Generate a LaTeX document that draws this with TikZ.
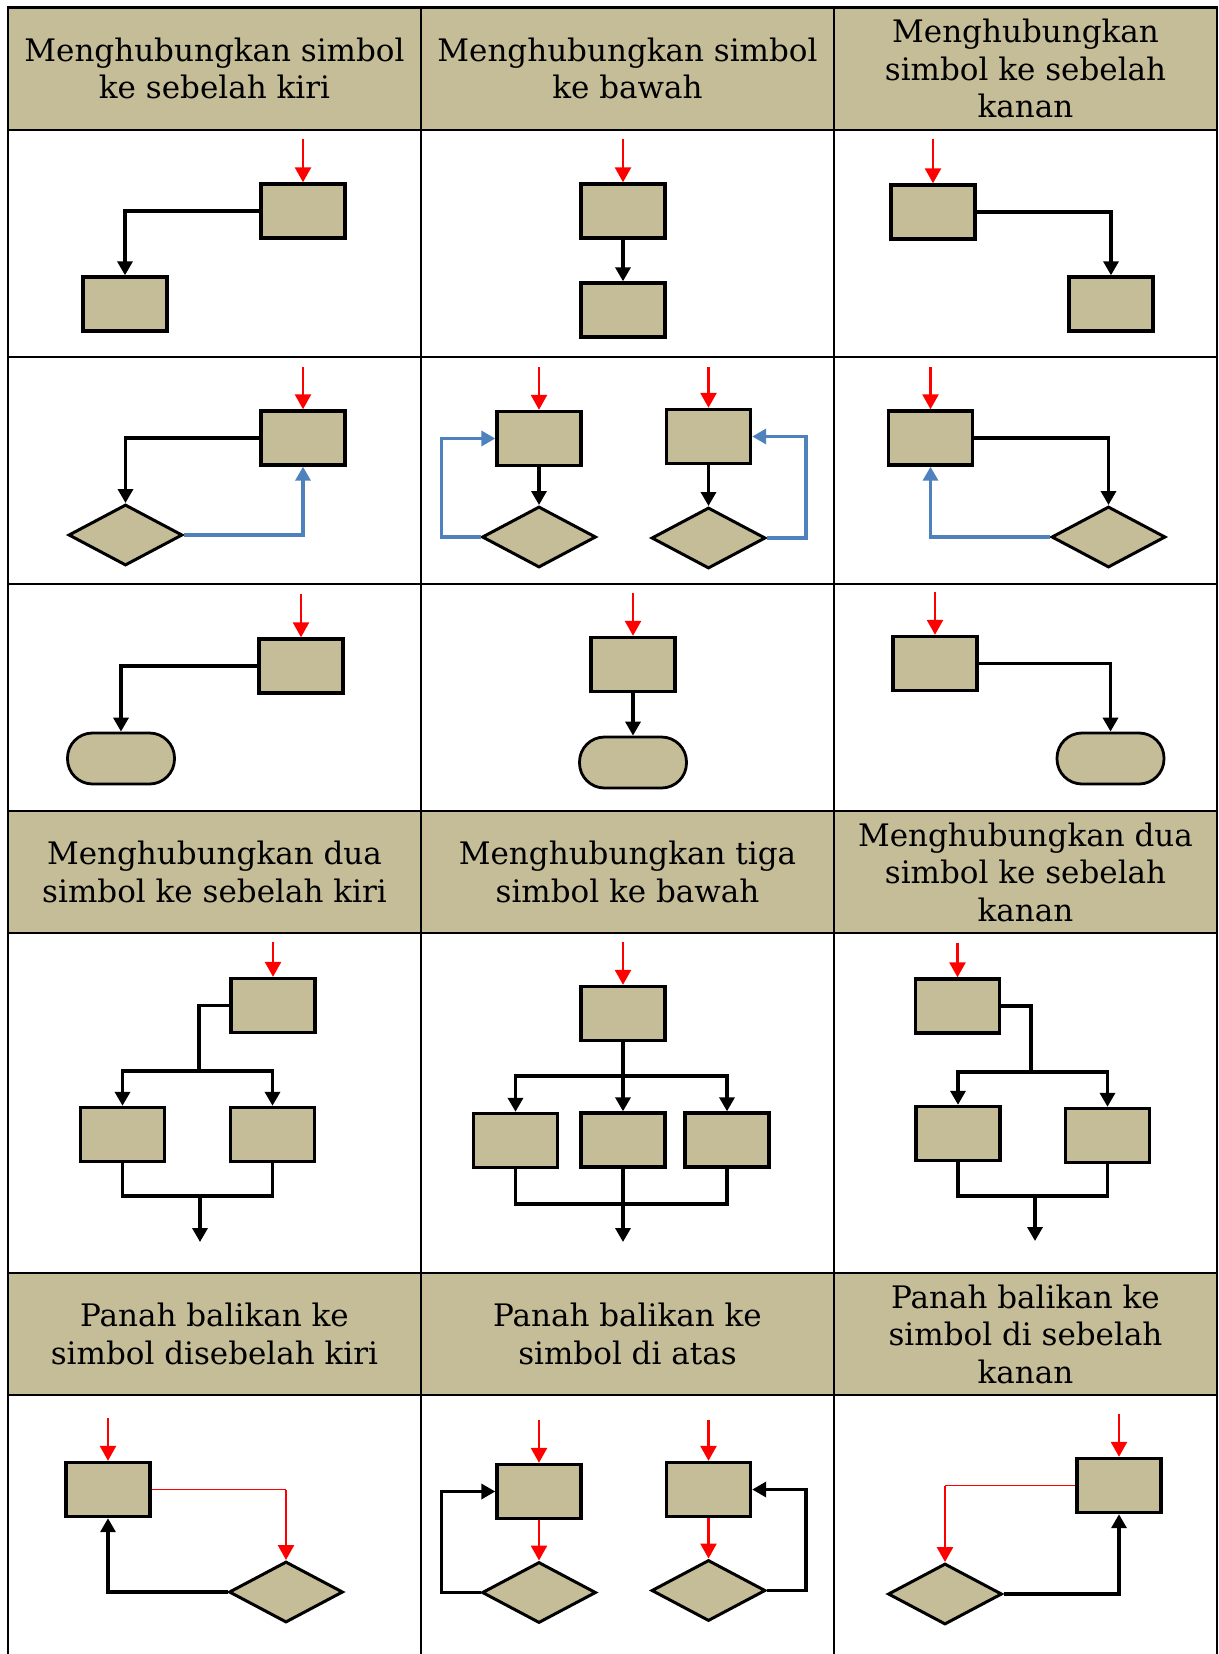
\documentclass[tikz,border=0pt]{standalone}
\usepackage{fontspec}
\setmainfont{DejaVu Serif}
\usetikzlibrary{arrows.meta,shapes.geometric}

\definecolor{khaki}{HTML}{C4BD97}
\definecolor{loopblue}{HTML}{4F81BD}

\tikzset{
	box/.style={draw, line width=3.4pt, fill=khaki, minimum width=84pt, minimum height=54pt, inner sep=0pt},
	dec/.style={diamond, draw, line width=3pt, fill=khaki, minimum width=114pt, minimum height=61pt, inner sep=0pt},
	term/.style={draw, line width=2.8pt, fill=khaki, rounded corners=25pt, minimum width=107pt, minimum height=51pt, inner sep=0pt},
	wire/.style={line width=3.4pt},
	flow/.style={-{Triangle[width=15pt,length=14pt]}, line width=3.4pt},
	inflow/.style={-{Triangle[width=16pt,length=15pt]}, red, line width=2.6pt},
	inwire/.style={red, line width=1.8pt},
	back/.style={-{Triangle[width=15pt,length=14pt]}, loopblue, line width=3.4pt},
	head/.style={align=center, font=\fontsize{31}{37.5}\selectfont},
}

\begin{document}
\begin{tikzpicture}[x=1pt, y=-1pt]
	\useasboundingbox (0, 0) rectangle (1218, 1654);
	
	% header bands
	\fill[khaki] (8, 7.5) rectangle (1217, 130);
	\fill[khaki] (8, 811) rectangle (1217, 933);
	\fill[khaki] (8, 1273) rectangle (1217, 1395);
	
	% table rules
	\foreach \y in {7.5, 130, 357, 584, 811, 933, 1273, 1395}
		\draw[line width=2.4pt] (7, \y) -- (1218, \y);
	\foreach \x in {8, 421, 834, 1217}
		\draw[line width=2.4pt] (\x, 6.5) -- (\x, 1660);
	
	% header texts
	\draw node[head] at (214.5, 68.5) (h11) {Menghubungkan simbol\\ke sebelah kiri};
	\draw node[head] at (627.5, 68.5) (h12) {Menghubungkan simbol\\ke bawah};
	\draw node[head] at (1025.5, 68.5) (h13) {Menghubungkan\\simbol ke sebelah\\kanan};
	\draw node[head] at (214.5, 872) (h21) {Menghubungkan dua\\simbol ke sebelah kiri};
	\draw node[head] at (627.5, 872) (h22) {Menghubungkan tiga\\simbol ke bawah};
	\draw node[head] at (1025.5, 872) (h23) {Menghubungkan dua\\simbol ke sebelah\\kanan};
	\draw node[head] at (214.5, 1334) (h31) {Panah balikan ke\\simbol disebelah kiri};
	\draw node[head] at (627.5, 1334) (h32) {Panah balikan ke\\simbol di atas};
	\draw node[head] at (1025.5, 1334) (h33) {Panah balikan ke\\simbol di sebelah\\kanan};
	
	% row A: process to process
	\draw node[box] at (303, 211) (A1a) {};
	\draw node[box] at (125, 304) (A1b) {};
	\coordinate (A1s) at (303, 139);
	\draw [inflow] (A1s) -- (A1a.north);
	\draw [flow] (A1a.west) -| (A1b.north);
	
	\draw node[box] at (623, 211) (A2a) {};
	\draw node[box] at (623, 310) (A2b) {};
	\coordinate (A2s) at (623, 139);
	\draw [inflow] (A2s) -- (A2a.north);
	\draw [flow] (A2a) -- (A2b);
	
	\draw node[box] at (933, 212) (A3a) {};
	\draw node[box] at (1111, 304) (A3b) {};
	\coordinate (A3s) at (933, 139);
	\draw [inflow] (A3s) -- (A3a.north);
	\draw [flow] (A3a.east) -| (A3b.north);
	
	% row B: process to decision with loop
	\draw node[box] at (303, 438) (B1a) {};
	\draw node[dec] at (125.5, 535) (B1b) {};
	\coordinate (B1s) at (303, 367);
	\draw [inflow] (B1s) -- (B1a.north);
	\draw [flow] (B1a.west) -| (B1b.north);
	\draw [back] (B1b.east) -| (B1a.south);
	
	\draw node[box] at (539, 438.5) (B2a) {};
	\draw node[dec] at (539, 537) (B2b) {};
	\coordinate (B2s) at (539, 367);
	\draw [inflow] (B2s) -- (B2a.north);
	\draw [flow] (B2a) -- (B2b);
	\draw [back] (B2b.west) -- ++(-39, 0) |- (B2a.west);
	
	\draw node[box] at (708.5, 436.5) (B2c) {};
	\draw node[dec] at (708.5, 538) (B2d) {};
	\coordinate (B2t) at (708.5, 367);
	\draw [inflow] (B2t) -- (B2c.north);
	\draw [flow] (B2c) -- (B2d);
	\draw [back] (B2d.east) -- ++(39, 0) |- (B2c.east);
	
	\draw node[box] at (930.5, 438) (B3a) {};
	\draw node[dec] at (1108.5, 537) (B3b) {};
	\coordinate (B3s) at (930.5, 367);
	\draw [inflow] (B3s) -- (B3a.north);
	\draw [flow] (B3a.east) -| (B3b.north);
	\draw [back] (B3b.west) -| (B3a.south);
	
	% row C: process to terminator
	\draw node[box] at (301, 666) (C1a) {};
	\draw node[term] at (121, 758.5) (C1b) {};
	\coordinate (C1s) at (301, 594);
	\draw [inflow] (C1s) -- (C1a.north);
	\draw [flow] (C1a.west) -| (C1b.north);
	
	\draw node[box] at (633, 664.5) (C2a) {};
	\draw node[term] at (633, 762.5) (C2b) {};
	\coordinate (C2s) at (633, 593);
	\draw [inflow] (C2s) -- (C2a.north);
	\draw [flow] (C2a) -- (C2b);
	
	\draw node[box] at (935, 663.5) (C3a) {};
	\draw node[term] at (1110.5, 758.5) (C3b) {};
	\coordinate (C3s) at (935, 592);
	\draw [inflow] (C3s) -- (C3a.north);
	\draw [flow] (C3a.east) -| (C3b.north);
	
	% row D: branching and merging
	\draw node[box] at (273, 1005.5) (D1a) {};
	\draw node[box] at (122.5, 1134.5) (D1b) {};
	\draw node[box] at (272.5, 1134.5) (D1c) {};
	\coordinate (D1s) at (273, 942);
	\coordinate (D1j) at (199, 1071);
	\coordinate (D1m) at (200, 1196);
	\coordinate (D1o) at (200, 1242);
	\draw [inflow] (D1s) -- (D1a.north);
	\draw [wire] (D1a.west) -| (D1j);
	\draw [flow] (D1j) -| (D1b.north);
	\draw [flow] (D1j) -| (D1c.north);
	\draw [wire] (D1b.south) |- (D1m);
	\draw [wire] (D1c.south) |- (D1m);
	\draw [flow] (D1m) -- (D1o);
	
	\draw node[box] at (623, 1013.5) (D2a) {};
	\draw node[box] at (515.5, 1140.5) (D2b) {};
	\draw node[box] at (623, 1140) (D2c) {};
	\draw node[box] at (727, 1140) (D2d) {};
	\coordinate (D2s) at (623, 942);
	\coordinate (D2j) at (623, 1076);
	\coordinate (D2m) at (623, 1204);
	\coordinate (D2o) at (623, 1242);
	\draw [inflow] (D2s) -- (D2a.north);
	\draw [wire] (D2a.south) -- (D2j);
	\draw [flow] (D2j) -| (D2b.north);
	\draw [flow] (D2j) -- (D2c.north);
	\draw [flow] (D2j) -| (D2d.north);
	\draw [wire] (D2b.south) |- (D2m);
	\draw [wire] (D2d.south) |- (D2m);
	\draw [wire] (D2c.south) -- (D2m);
	\draw [flow] (D2m) -- (D2o);
	
	\draw node[box] at (957.5, 1006) (D3a) {};
	\draw node[box] at (958, 1133.5) (D3b) {};
	\draw node[box] at (1107.5, 1135.5) (D3c) {};
	\coordinate (D3s) at (957.5, 942.5);
	\coordinate (D3j) at (1031, 1072);
	\coordinate (D3m) at (1035, 1196);
	\coordinate (D3o) at (1035, 1241);
	\draw [inflow] (D3s) -- (D3a.north);
	\draw [wire] (D3a.east) -| (D3j);
	\draw [flow] (D3j) -| (D3b.north);
	\draw [flow] (D3j) -| (D3c.north);
	\draw [wire] (D3b.south) |- (D3m);
	\draw [wire] (D3c.south) |- (D3m);
	\draw [flow] (D3m) -- (D3o);
	
	% row E: return arrows
	\draw node[box] at (108, 1489.5) (E1a) {};
	\draw node[dec] at (286, 1592) (E1b) {};
	\coordinate (E1s) at (108, 1418);
	\draw [inflow] (E1s) -- (E1a.north);
	\draw [inwire] (E1a.east) -- (E1a.east -| E1b.north);
	\draw [inflow] (E1a.east -| E1b.north) -- (E1b.north);
	\draw [flow] (E1b.west) -| (E1a.south);
	
	\draw node[box] at (539, 1491.5) (E2a) {};
	\draw node[dec] at (539, 1592.5) (E2b) {};
	\coordinate (E2s) at (539, 1420);
	\draw [inflow] (E2s) -- (E2a.north);
	\draw [inflow] (E2a) -- (E2b);
	\draw [flow] (E2b.west) -- ++(-39, 0) |- (E2a.west);
	
	\draw node[box] at (708.5, 1489.5) (E2c) {};
	\draw node[dec] at (708.5, 1590.5) (E2d) {};
	\coordinate (E2t) at (708.5, 1420);
	\draw [inflow] (E2t) -- (E2c.north);
	\draw [inflow] (E2c) -- (E2d);
	\draw [flow] (E2d.east) -- ++(39, 0) |- (E2c.east);
	
	\draw node[box] at (1119, 1485.5) (E3a) {};
	\draw node[dec] at (945, 1594) (E3b) {};
	\coordinate (E3s) at (1119, 1414);
	\draw [inflow] (E3s) -- (E3a.north);
	\draw [inwire] (E3a.west) -- (E3a.west -| E3b.north);
	\draw [inflow] (E3a.west -| E3b.north) -- (E3b.north);
	\draw [flow] (E3b.east) -| (E3a.south);
\end{tikzpicture}
\end{document}
